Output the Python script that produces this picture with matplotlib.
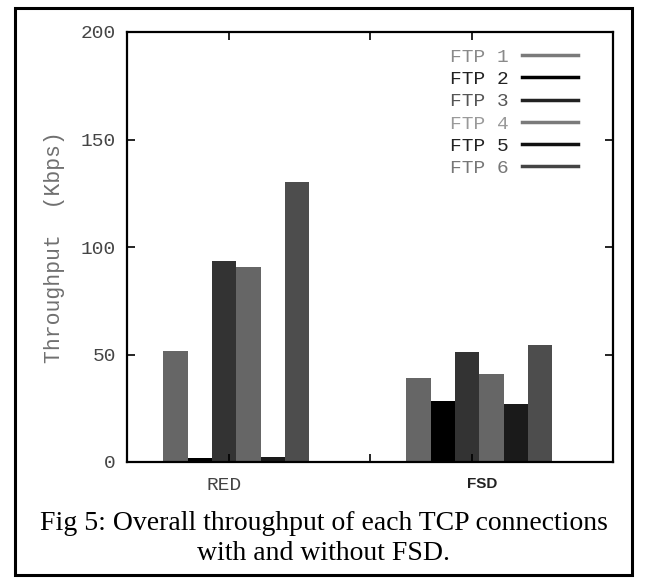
#!/usr/bin/env python3
''' throughput of each FTP flow, RED vs FSD, gnuplot-ish histogram '''
import numpy as np
import matplotlib
matplotlib.use('Agg')
import matplotlib.pyplot as plt
from matplotlib.lines import Line2D
from matplotlib.patches import Rectangle

groups = ['RED', 'FSD']
flows = ['FTP 1', 'FTP 2', 'FTP 3', 'FTP 4', 'FTP 5', 'FTP 6']
red = [51.6, 2.0, 93.5, 90.7, 2.3, 130.4]
fsd = [38.9, 28.4, 51.0, 40.8, 26.8, 54.4]
yticks = [0, 50, 100, 150, 200]

bar_colors = ['#666666', '#000000', '#333333', '#666666', '#1a1a1a', '#4d4d4d']
line_colors = ['#7a7a7a', '#000000', '#222222', '#7a7a7a', '#111111', '#444444']
text_colors = ['#8a8a8a', '#222222', '#555555', '#9a9a9a', '#222222', '#777777']

mono = 'Liberation Mono'

fig = plt.figure(figsize=(6.47, 5.81), dpi=100)
ax = fig.add_axes([127 / 647, 119 / 581, 486 / 647, 430 / 581])

# outer frame around figure + caption
fig.patches.append(Rectangle((15 / 647, 6 / 581), 617 / 647, 567 / 581,
                             transform=fig.transFigure, fill=False,
                             edgecolor='black', linewidth=2.2))

starts = [2, 12]
for g, vals in enumerate([red, fsd]):
    x = starts[g] + np.arange(len(vals))
    for i, v in enumerate(vals):
        ax.bar(x[i], v, width=1.0, color=bar_colors[i], linewidth=0)

ax.set_xlim(0, 20)
ax.set_ylim(0, 200)
ax.set_yticks(yticks)
ax.set_yticklabels([str(t) for t in yticks], fontfamily=mono, fontsize=14,
                   color='#444444')
ax.set_xticks([4.2, 10, 14.2])
ax.set_xticklabels([])
ax.tick_params(direction='in', length=6, width=1.2, top=True, right=True,
               pad=8)
for s in ax.spines.values():
    s.set_linewidth(1.6)

ax.text(4.0, -7, groups[0], ha='center', va='top', fontfamily=mono,
        fontsize=14, color='#444444')
ax.text(14.6, -7, groups[1], ha='center', va='top', fontfamily='Liberation Sans',
        fontweight='bold', fontsize=11, color='#222222')

ax.set_ylabel('Throughput  (Kbps)', fontfamily=mono, fontsize=15.5,
              color='#707070', labelpad=11)

handles = [Line2D([0], [0], color=c, linewidth=2.5) for c in line_colors]
leg = ax.legend(handles, flows, loc='upper right',
                bbox_to_anchor=(0.949, 0.985), frameon=False,
                markerfirst=False, handlelength=2.9, handletextpad=0.7,
                labelspacing=0.24, borderpad=0,
                prop={'family': mono, 'size': 14})
for t, c in zip(leg.get_texts(), text_colors):
    t.set_color(c)

fig.text(0.5, 57 / 581, 'Fig 5: Overall throughput of each TCP connections',
         ha='center', va='center', fontfamily='Liberation Serif', fontsize=20)
fig.text(0.5, 28 / 581, 'with and without FSD.',
         ha='center', va='center', fontfamily='Liberation Serif', fontsize=20)

fig.savefig('out.png', dpi=100)
